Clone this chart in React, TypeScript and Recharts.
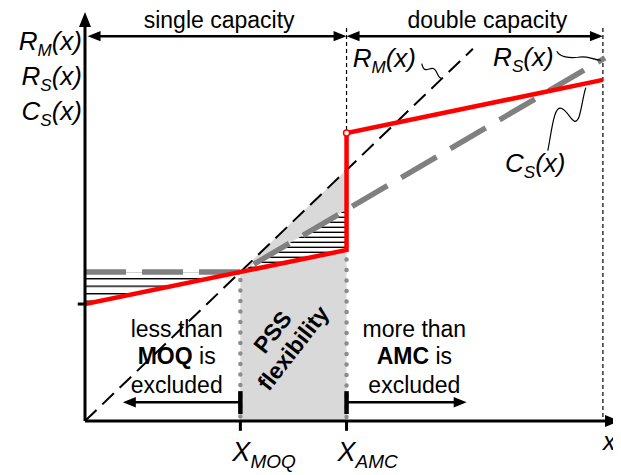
import React from 'react';
import { ComposedChart, XAxis, YAxis, Line, Area, ReferenceLine, ReferenceDot } from 'recharts';

const FONT = '"Liberation Sans", Arial, sans-serif';

// quantity axis break points
const X_MOQ = 3;
const X_AMC = 5.05;
const X_END = 10;
const X_MAX = 10.33;
const Y_MAX = 10;

// R_M(x) - dashed black, through origin
const rmPoints = [
  { x: 0, y: 0 },
  { x: 7.49, y: 9.1 },
];
// R_S(x) - flat until MOQ, then rising
const rsPoints = [
  { x: 0, y: 3.64 },
  { x: 3, y: 3.64 },
  { x: 10.04, y: 8.88 },
];
// C_S(x) - cost, jumps at AMC (double capacity)
const csPoints = [
  { x: 0, y: 2.86 },
  { x: 5.05, y: 4.18 },
  { x: 5.05, y: 7.04 },
  { x: 10, y: 8.34 },
];
// grey PSS flexibility zone (under R_M between MOQ and AMC)
const flexPoints = [
  { x: 3, y: 3.65 },
  { x: 5.05, y: 6.14 },
];
// hatched gaps between C_S and R_S
const gapLeft = [
  { x: 0, band: [2.86, 3.64] },
  { x: 3, band: [3.64, 3.64] },
];
const gapRight = [
  { x: 3, band: [3.64, 3.64] },
  { x: 5.05, band: [4.18, 5.17] },
];

const yAxisLabels = [
  { main: 'R', sub: 'M', y: 9.07 },
  { main: 'R', sub: 'S', y: 8.22 },
  { main: 'C', sub: 'S', y: 7.36 },
];

type ArrowOpts = {
  width: number;
  color?: string;
  dash?: string;
  start?: boolean;
  end?: boolean;
  head?: number;
  cap?: 'butt' | 'round';
};

const arrowShape = (o: ArrowOpts) => (p: any) => {
  const { x1, y1, x2, y2 } = p;
  const len = Math.hypot(x2 - x1, y2 - y1) || 1;
  const ux = (x2 - x1) / len;
  const uy = (y2 - y1) / len;
  const h = o.head ?? 13;
  const hw = h * 0.4;
  const color = o.color ?? '#000';
  const tri = (tx: number, ty: number, dx: number, dy: number) => {
    const bx = tx - dx * h;
    const by = ty - dy * h;
    return `${tx},${ty} ${bx - dy * hw},${by + dx * hw} ${bx + dy * hw},${by - dx * hw}`;
  };
  const sx = o.start ? x1 + ux * h * 0.7 : x1;
  const sy = o.start ? y1 + uy * h * 0.7 : y1;
  const ex = o.end ? x2 - ux * h * 0.7 : x2;
  const ey = o.end ? y2 - uy * h * 0.7 : y2;
  return (
    <g>
      <line
        x1={sx}
        y1={sy}
        x2={ex}
        y2={ey}
        stroke={color}
        strokeWidth={o.width}
        strokeDasharray={o.dash}
        strokeLinecap={o.cap ?? 'butt'}
      />
      {o.start && <polygon points={tri(x1, y1, -ux, -uy)} fill={color} />}
      {o.end && <polygon points={tri(x2, y2, ux, uy)} fill={color} />}
    </g>
  );
};

const seg = (key: string, a: [number, number], b: [number, number], o: ArrowOpts) => (
  <ReferenceLine
    key={key}
    segment={[{ x: a[0], y: a[1] }, { x: b[0], y: b[1] }]}
    ifOverflow="visible"
    shape={arrowShape(o)}
  />
);

const note = (key: string, x: number, y: number, render: (cx: number, cy: number) => React.ReactNode) => (
  <ReferenceDot
    key={key}
    x={x}
    y={y}
    r={0}
    ifOverflow="visible"
    shape={(p: any) => <g>{render(p.cx, p.cy)}</g>}
  />
);

const txt = { fontFamily: FONT, fill: '#000' };

export default function App() {
  return (
    <div style={{ position: 'relative', width: 613, height: 467 }}>
      <svg width={0} height={0} style={{ position: 'absolute' }}>
        <defs>
          <pattern id="hatchWide" patternUnits="userSpaceOnUse" width={8} height={7.5}>
            <rect width={8} height={7.5} fill="#fff" />
            <rect y={0} width={8} height={1.4} fill="#000" />
          </pattern>
          <pattern id="hatchTight" patternUnits="userSpaceOnUse" width={8} height={5}>
            <rect width={8} height={5} fill="#fff" />
            <rect y={3.6} width={8} height={1.4} fill="#000" />
          </pattern>
        </defs>
      </svg>
      <ComposedChart width={613} height={467} margin={{ top: 4, right: 1, bottom: 54, left: 77 }}>
        <XAxis type="number" dataKey="x" domain={[0, X_MAX]} allowDataOverflow hide />
        <YAxis type="number" domain={[0, Y_MAX]} allowDataOverflow hide />

        <Area data={flexPoints} dataKey="y" type="linear" fill="#d9d9d9" fillOpacity={1} stroke="none" isAnimationActive={false} />
        <Area data={gapLeft} dataKey="band" type="linear" fill="url(#hatchWide)" fillOpacity={1} stroke="none" isAnimationActive={false} />
        <Area data={gapRight} dataKey="band" type="linear" fill="url(#hatchTight)" fillOpacity={1} stroke="none" isAnimationActive={false} />

        {/* guide lines */}
        {seg('dashAmc', [X_AMC, 9.61], [X_AMC, 7.04], { width: 1.2, dash: '4 3' })}
        {seg('dashEnd', [X_END, 9.61], [X_END, 0], { width: 1.2, dash: '4 3' })}
        {seg('dotMoq', [X_MOQ, 3.45], [X_MOQ, 0], { width: 4.5, color: '#8c8c8c', dash: '0 10.5', cap: 'round' })}
        {seg('dotAmc', [X_AMC, 3.95], [X_AMC, 0], { width: 4.5, color: '#8c8c8c', dash: '0 10.5', cap: 'round' })}

        <Line data={rmPoints} dataKey="y" type="linear" stroke="#000" strokeWidth={2} strokeDasharray="16 8" dot={false} isAnimationActive={false} />
        <Line data={rsPoints} dataKey="y" type="linear" stroke="#808080" strokeWidth={5.5} strokeDasharray="41 16" dot={false} isAnimationActive={false} />
        <Line data={csPoints} dataKey="y" type="linear" stroke="#ff0000" strokeWidth={4.5} dot={false} isAnimationActive={false} />
        <ReferenceDot x={X_AMC} y={7.04} r={3} fill="#fff" stroke="#ff0000" strokeWidth={1.5} ifOverflow="visible" />

        {/* axes */}
        {seg('yAxis', [0, 0], [0, Y_MAX], { width: 3, end: true, head: 15 })}
        {seg('xAxis', [0, 0], [X_MAX, 0], { width: 3, end: true, head: 15 })}
        {seg('yTick', [-0.14, 2.86], [0, 2.86], { width: 3 })}
        {seg('tickMoq', [X_MOQ, 0], [X_MOQ, -0.24], { width: 3 })}
        {seg('tickAmc', [X_AMC, 0], [X_AMC, -0.24], { width: 3 })}

        {/* capacity arrows */}
        {seg('single', [0.05, 9.41], [X_AMC, 9.41], { width: 2.5, start: true, end: true })}
        {seg('double', [X_AMC, 9.41], [X_END, 9.41], { width: 2.5, start: true, end: true })}

        {/* exclusion arrows */}
        {seg('leftArr', [X_MOQ, 0.46], [0.73, 0.46], { width: 2.5, end: true })}
        {seg('rightArr', [X_AMC, 0.46], [7.37, 0.46], { width: 2.5, end: true })}
        {seg('markMoq', [X_MOQ, 0.73], [X_MOQ, 0.17], { width: 4.5 })}
        {seg('markAmc', [X_AMC, 0.73], [X_AMC, 0.17], { width: 4.5 })}

        {/* leaders */}
        {note('leadRm', 6.89, 8.37, (cx, cy) => (
          <path transform={`translate(${cx},${cy})`} d="M -20 -15 C -18 -4, -12 -12, -8 -10 C -4 -8, -5 -1, 0 0" fill="none" stroke="#000" strokeWidth={1.2} />
        ))}
        {note('leadRs', 9.96, 8.82, (cx, cy) => (
          <path transform={`translate(${cx},${cy})`} d="M -44 -9 C -41 -3, -31 -2, -23 -3 C -13 -5, -11 -1, 0 0" fill="none" stroke="#000" strokeWidth={1.2} />
        ))}
        {note('leadCs', 9.67, 8.25, (cx, cy) => (
          <path transform={`translate(${cx},${cy})`} d="M -38 67 C -34 47, -32 21, -24 25 C -16 29, -12 45, -7 34 C -4 25, -3 13, 0 4" fill="none" stroke="#000" strokeWidth={1.2} />
        ))}

        {/* texts */}
        {note('tSingle', 2.59, 9.61, (cx, cy) => (
          <text x={cx} y={cy} textAnchor="middle" fontSize={23} {...txt}>single capacity</text>
        ))}
        {note('tDouble', 7.77, 9.61, (cx, cy) => (
          <text x={cx} y={cy} textAnchor="middle" fontSize={23} {...txt}>double capacity</text>
        ))}
        {yAxisLabels.map((l) =>
          note('yl' + l.main + l.sub, 0, l.y, (cx, cy) => (
            <text x={cx - 3} y={cy} textAnchor="end" fontSize={26} fontStyle="italic" {...txt}>
              {l.main}
              <tspan fontSize={17} dy={6}>{l.sub}</tspan>
              <tspan dy={-6}>(x)</tspan>
            </text>
          ))
        )}
        {note('tRm', 5.17, 8.66, (cx, cy) => (
          <text x={cx} y={cy} fontSize={26} fontStyle="italic" {...txt}>
            R<tspan fontSize={17} dy={6}>M</tspan><tspan dy={-6}>(x)</tspan>
          </text>
        ))}
        {note('tRs', 7.88, 8.68, (cx, cy) => (
          <text x={cx} y={cy} fontSize={26} fontStyle="italic" {...txt}>
            R<tspan fontSize={17} dy={6}>S</tspan><tspan dy={-6}>(x)</tspan>
          </text>
        ))}
        {note('tCs', 8.11, 6.09, (cx, cy) => (
          <text x={cx} y={cy} fontSize={26} fontStyle="italic" {...txt}>
            C<tspan fontSize={17} dy={6}>S</tspan><tspan dy={-6}>(x)</tspan>
          </text>
        ))}
        {note('tLess', 1.77, 2.05, (cx, cy) => (
          <text textAnchor="middle" fontSize={23} {...txt}>
            <tspan x={cx} y={cy}>less than</tspan>
            <tspan x={cx} y={cy + 27}><tspan fontWeight="bold">MOQ</tspan> is</tspan>
            <tspan x={cx} y={cy + 56}>excluded</tspan>
          </text>
        ))}
        {note('tMore', 6.36, 2.05, (cx, cy) => (
          <text textAnchor="middle" fontSize={23} {...txt}>
            <tspan x={cx} y={cy}>more than</tspan>
            <tspan x={cx} y={cy + 27}><tspan fontWeight="bold">AMC</tspan> is</tspan>
            <tspan x={cx} y={cy + 56}>excluded</tspan>
          </text>
        ))}
        {note('tPss', 3.82, 1.98, (cx, cy) => (
          <text transform={`rotate(-52 ${cx} ${cy})`} textAnchor="middle" fontSize={23} fontWeight="bold" {...txt}>
            <tspan x={cx} y={cy - 5}>PSS</tspan>
            <tspan x={cx} y={cy + 21}>flexibility</tspan>
          </text>
        ))}
        {note('tXmoq', X_MOQ, 0, (cx, cy) => (
          <text x={cx - 8} y={cy + 40} fontSize={27} fontStyle="italic" {...txt}>
            X<tspan fontSize={19} dy={7}>MOQ</tspan>
          </text>
        ))}
        {note('tXamc', X_AMC, 0, (cx, cy) => (
          <text x={cx - 9} y={cy + 40} fontSize={27} fontStyle="italic" {...txt}>
            X<tspan fontSize={19} dy={7}>AMC</tspan>
          </text>
        ))}
        {note('tX', X_END, 0, (cx, cy) => (
          <text x={cx} y={cy + 29} fontSize={25} fontStyle="italic" {...txt}>x</text>
        ))}
      </ComposedChart>
    </div>
  );
}
